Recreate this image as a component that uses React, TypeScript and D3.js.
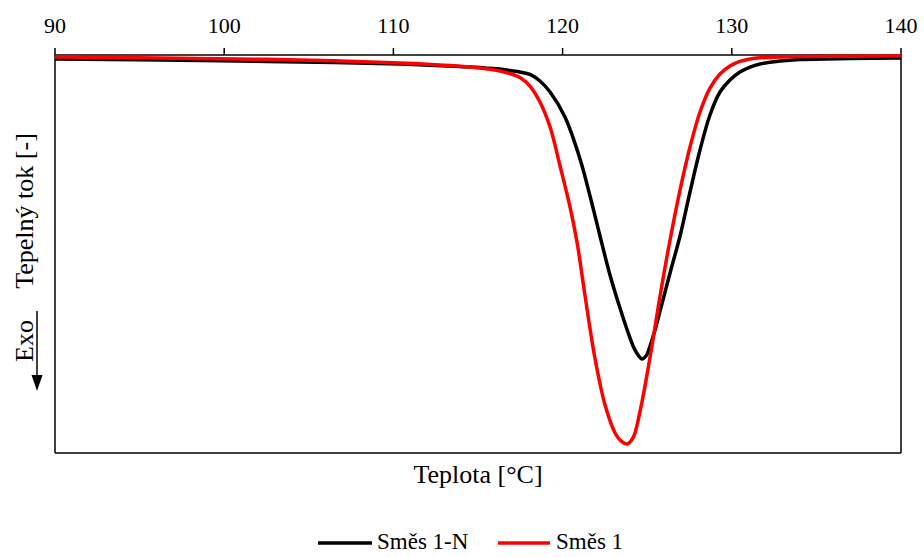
import React from "react";
import * as d3 from "d3";

const xTicks = [90, 100, 110, 120, 130, 140];

const redT = [90.0, 98.57, 104.48, 110.39, 113.35, 115.12, 116.3, 116.89, 117.48, 118.07, 118.66, 119.26, 119.85, 120.44, 120.85, 121.32, 121.91, 122.51, 123.1, 123.45, 123.81, 124.16, 124.57, 125.17, 125.76, 126.35, 126.94, 127.53, 128.12, 128.71, 129.3, 129.89, 130.48, 131.08, 131.67, 132.85, 134.03, 137.0, 140.0];
const redV = [-0.2, -0.35, -0.5, -0.8, -1.06, -1.31, -1.6, -1.86, -2.26, -3.12, -4.72, -7.24, -11.16, -15.28, -18.79, -24.12, -30.45, -35.18, -37.99, -38.79, -39.1, -38.49, -35.88, -30.35, -24.22, -18.59, -13.57, -9.25, -5.73, -3.32, -1.91, -1.11, -0.65, -0.4, -0.28, -0.2, -0.15, -0.12, -0.1];

const blackT = [90.0, 98.57, 104.48, 110.39, 113.35, 115.12, 116.3, 116.89, 117.48, 118.07, 118.66, 119.26, 120.14, 121.03, 121.62, 122.21, 122.8, 123.39, 123.86, 124.22, 124.46, 124.69, 124.93, 125.17, 125.46, 125.76, 126.35, 126.94, 127.53, 128.12, 128.71, 129.3, 129.89, 130.48, 131.08, 131.67, 132.85, 134.03, 136.98, 140.0];
const blackV = [-0.4, -0.55, -0.7, -0.9, -1.11, -1.26, -1.41, -1.56, -1.71, -1.95, -2.61, -3.72, -6.23, -10.45, -14.17, -18.19, -22.11, -25.43, -27.84, -29.45, -30.15, -30.55, -30.25, -29.25, -27.64, -25.73, -21.91, -18.19, -13.77, -9.55, -6.03, -3.72, -2.51, -1.71, -1.21, -0.9, -0.6, -0.45, -0.35, -0.3];

const seriesNames = ["Směs 1-N", "Směs 1"];
const xTitle = "Teplota [°C]";
const yTitle = "Tepelný tok [-]";

const W = 924, H = 557;
const L = 55, R = 901, T = 55, B = 453;
const FONT = "'Liberation Serif', 'Times New Roman', serif";
const ts = { fontFamily: FONT } as React.CSSProperties;

export default function App() {
  const x = d3.scaleLinear().domain([90, 140]).range([L, R]);
  const y = d3.scaleLinear().domain([-40, 0]).range([B, T]);
  const line = d3
    .line<[number, number]>()
    .x((d) => x(d[0]))
    .y((d) => y(d[1]))
    .curve(d3.curveCatmullRom.alpha(0.5));
  const blackPts = blackT.map((t, i) => [t, blackV[i]] as [number, number]);
  const redPts = redT.map((t, i) => [t, redV[i]] as [number, number]);

  return (
    <svg width={W} height={H} style={{ position: "absolute", left: 0, top: 0, background: "#fff" }}>
      <rect x={0} y={0} width={W} height={H} fill="#fff" />
      <defs>
        <clipPath id="plot">
          <rect x={L} y={T - 3} width={R - L} height={B - T + 3} />
        </clipPath>
      </defs>
      {/* frame */}
      <line x1={L} x2={L} y1={T} y2={B} stroke="#000" strokeWidth={1.5} />
      <line x1={R} x2={R} y1={T} y2={B} stroke="#000" strokeWidth={1.5} />
      <line x1={L} x2={R} y1={B} y2={B} stroke="#000" strokeWidth={1.5} />
      <line x1={L} x2={R} y1={T} y2={T} stroke="#000" strokeWidth={1.5} />
      {xTicks.map((t) => (
        <g key={t}>
          <line x1={x(t)} x2={x(t)} y1={T} y2={T - 7} stroke="#000" strokeWidth={1.5} />
          <text x={x(t)} y={33} textAnchor="middle" fontSize={22} fill="#000" style={ts}>
            {t}
          </text>
        </g>
      ))}
      <g clipPath="url(#plot)">
        <path d={line(blackPts) || ""} fill="none" stroke="#000" strokeWidth={3.5} />
        <path d={line(redPts) || ""} fill="none" stroke="#FF0000" strokeWidth={3.5} />
      </g>
      {/* titles */}
      <text x={(L + R) / 2} y={483} textAnchor="middle" fontSize={26} fill="#000" style={ts}>
        {xTitle}
      </text>
      <text transform={`translate(33,211) rotate(-90)`} textAnchor="middle" fontSize={26} fill="#000" style={ts}>
        {yTitle}
      </text>
      <text transform={`translate(33,341) rotate(-90)`} textAnchor="middle" fontSize={26} fill="#000" style={ts}>
        Exo
      </text>
      <line x1={37} x2={37} y1={311} y2={376} stroke="#000" strokeWidth={1.5} />
      <path d="M31.5,375 L42.5,375 L37,391 Z" fill="#000" />
      {/* legend */}
      <line x1={318} x2={372} y1={543} y2={543} stroke="#000" strokeWidth={3.5} />
      <text x={377} y={549} fontSize={23} fill="#000" style={ts}>{seriesNames[0]}</text>
      <line x1={498} x2={550} y1={543} y2={543} stroke="#FF0000" strokeWidth={3.5} />
      <text x={556} y={549} fontSize={23} fill="#000" style={ts}>{seriesNames[1]}</text>
    </svg>
  );
}
